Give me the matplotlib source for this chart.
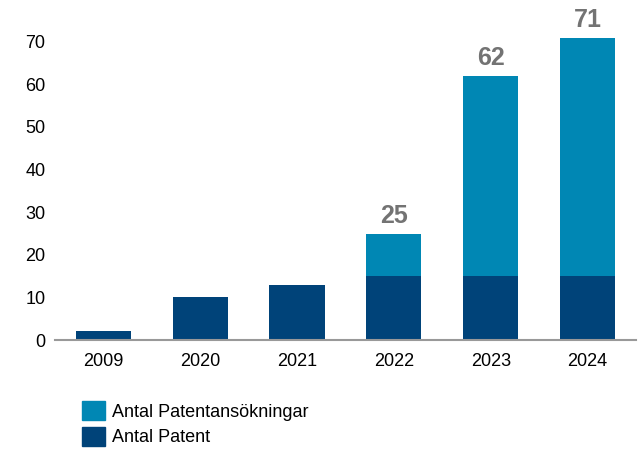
import matplotlib
matplotlib.use("Agg")
import matplotlib.pyplot as plt
import numpy as np
from matplotlib.patches import Patch

plt.rcParams.update({
    "font.family": ["Liberation Sans", "DejaVu Sans"],
    "font.size": 13,
})

# --- Data ---
years = ["2009", "2020", "2021", "2022", "2023", "2024"]
patents = [2, 10, 13, 15, 15, 15]
applications = [0, 0, 0, 10, 47, 56]
totals = [None, None, None, 25, 62, 71]

C_APP = "#0087b4"
C_PAT = "#004379"

fig = plt.figure(figsize=(6.43, 4.51), dpi=100)
ax = fig.add_axes([0.0855, 0.2461, 0.9035, 0.7557])

x = np.arange(len(years))
w = 0.57
ax.bar(x, patents, width=w, color=C_PAT, zorder=2)
ax.bar(x, applications, width=w, bottom=patents, color=C_APP, zorder=2)

for xi, p, a, t in zip(x, patents, applications, totals):
    if t is None:
        continue
    ax.annotate(str(t), (xi, p + a), textcoords="offset points", xytext=(0, 4),
                ha="center", va="bottom", fontsize=18, fontweight="bold",
                color="#737373")

ax.set_xlim(-0.5, 5.5)
ax.set_ylim(0, 80)
ax.set_yticks(range(0, 80, 10))
ax.set_xticks(x)
ax.set_xticklabels(years)
ax.tick_params(axis="both", length=0, labelsize=13, colors="#000000")
ax.tick_params(axis="y", pad=7)
ax.tick_params(axis="x", pad=9)

for s in ["top", "right", "left"]:
    ax.spines[s].set_visible(False)
ax.spines["bottom"].set_color("#999999")
ax.spines["bottom"].set_linewidth(1.5)

handles = [Patch(color=C_APP, label="Antal Patentansökningar"),
           Patch(color=C_PAT, label="Antal Patent")]
fig.legend(handles=handles, loc="upper left", bbox_to_anchor=(0.1275, 0.111),
           frameon=False, fontsize=13, handlelength=1.28, handleheight=1.28,
           handletextpad=0.39, labelspacing=0.33, borderpad=0, borderaxespad=0)

fig.savefig("out.png", dpi=100)
